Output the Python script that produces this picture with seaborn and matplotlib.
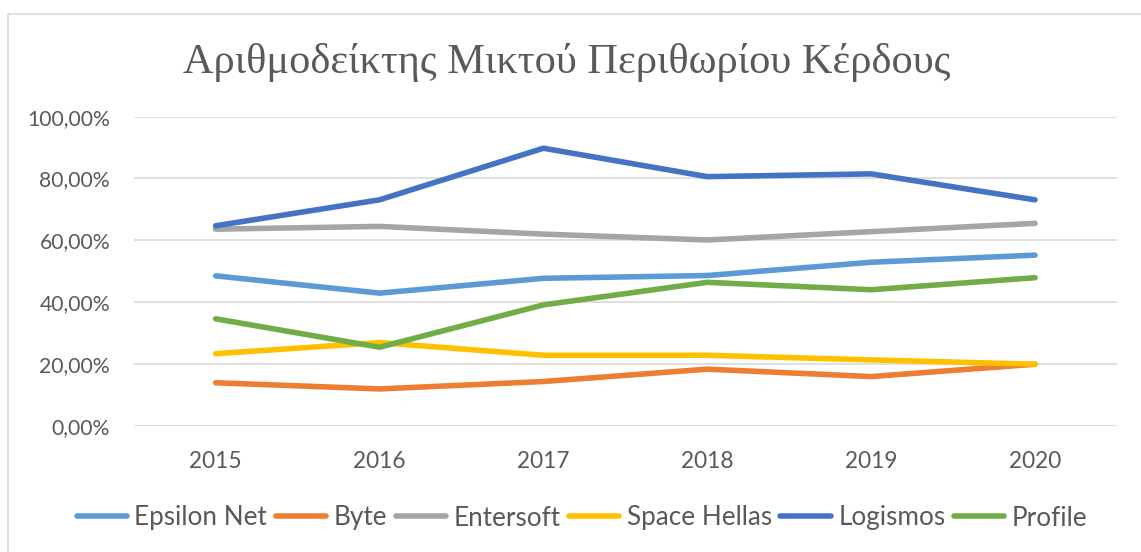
import matplotlib
matplotlib.use("Agg")
import matplotlib.pyplot as plt
import seaborn as sns
import pandas as pd
from matplotlib.patches import Rectangle
from matplotlib.ticker import FuncFormatter

years = [2015, 2016, 2017, 2018, 2019, 2020]
epsilon_net = [48.5, 42.9, 47.7, 48.6, 52.9, 55.2]
byte = [13.9, 11.9, 14.3, 18.3, 15.9, 19.9]
entersoft = [63.6, 64.5, 62.0, 60.1, 62.8, 65.5]
space_hellas = [23.3, 26.9, 22.8, 22.8, 21.3, 19.9]
logismos = [64.7, 73.1, 89.8, 80.6, 81.5, 73.1]
profile = [34.6, 25.4, 39.1, 46.4, 44.0, 47.9]

series_names = ["Epsilon Net", "Byte", "Entersoft", "Space Hellas", "Logismos", "Profile"]
series_values = [epsilon_net, byte, entersoft, space_hellas, logismos, profile]
colors = ["#5B9BD5", "#ED7D31", "#A5A5A5", "#FFC000", "#4472C4", "#70AD47"]
title = "Αριθμοδείκτης Μικτού Περιθωρίου Κέρδους"

rows = []
for name, vals in zip(series_names, series_values):
    for y, v in zip(years, vals):
        rows.append({"Year": y, "Value": v / 100.0, "Company": name})
df = pd.DataFrame(rows)

sns.set_theme(style="white")
plt.rcParams['font.family'] = ['Lato', 'DejaVu Sans']

fig = plt.figure(figsize=(11.41, 5.52), dpi=100)
ax = fig.add_axes([133.7 / 1141, 1 - 425.7 / 552, (1117 - 133.7) / 1141, (425.7 - 116.7) / 552])

LW = 4.0
sns.lineplot(data=df, x="Year", y="Value", hue="Company", hue_order=series_names,
             palette=colors, linewidth=LW, ax=ax, legend=True,
             solid_capstyle="round", solid_joinstyle="round")

ax.set_xlim(2014.5, 2020.5)
ax.set_ylim(0, 1.0)
ax.set_yticks([0, 0.2, 0.4, 0.6, 0.8, 1.0])
ax.yaxis.set_major_formatter(FuncFormatter(lambda v, p: f"{v*100:.2f}%".replace(".", ",")))
ax.set_xticks(years)
ax.set_xticklabels([str(y) for y in years])
ax.grid(axis="y", color="#D9D9D9", linewidth=1.2)
ax.set_axisbelow(True)
for s in ax.spines.values():
    s.set_visible(False)
ax.tick_params(axis="both", length=0, labelcolor="#595959")
ax.tick_params(axis="y", pad=17, labelsize=15.2)
ax.tick_params(axis="x", pad=18, labelsize=16.3)
ax.set_xlabel("")
ax.set_ylabel("")

handles, labels = ax.get_legend_handles_labels()
for h in handles:
    h.set_linewidth(LW)
    h.set_solid_capstyle("round")
leg = ax.legend(handles, labels, loc="center", bbox_to_anchor=(582 / 1141, 1 - 518 / 552),
                bbox_transform=fig.transFigure, ncol=6, frameon=False,
                handlelength=1.92, handletextpad=0.29, columnspacing=0.33,
                fontsize=18.8, borderpad=0, borderaxespad=0)
for t in leg.get_texts():
    t.set_color("#595959")

fig.text(567 / 1141, 1 - 62 / 552, title, ha="center", va="center",
         fontsize=30.5, color="#595959", family=["Liberation Serif", "DejaVu Serif"])

fig.patches.append(Rectangle((8 / 1141, -0.05), 1.1, 1 - 14 / 552 + 0.05,
                             transform=fig.transFigure, fill=False,
                             edgecolor="#D9D9D9", linewidth=1.2))

fig.savefig("out.png", dpi=100)
